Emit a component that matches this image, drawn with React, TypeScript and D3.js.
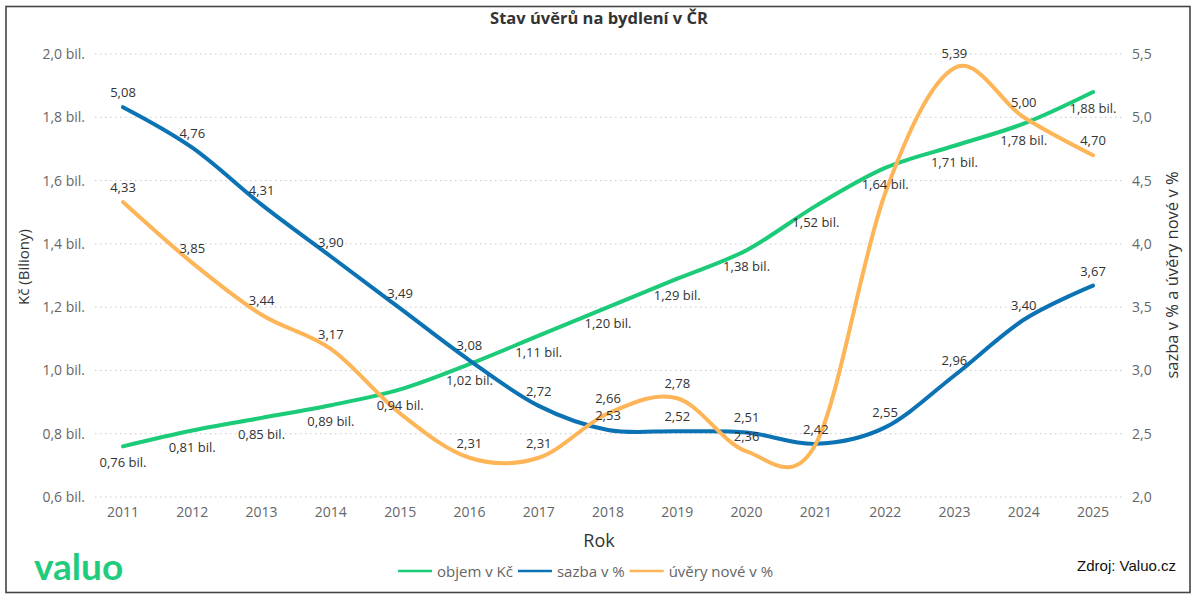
import * as d3 from "d3";
import { useEffect, useRef } from "react";

const years = [2011, 2012, 2013, 2014, 2015, 2016, 2017, 2018, 2019, 2020, 2021, 2022, 2023, 2024, 2025];
const objem = [0.76, 0.81, 0.85, 0.89, 0.94, 1.02, 1.11, 1.2, 1.29, 1.38, 1.52, 1.64, 1.71, 1.78, 1.88];
const sazba = [5.08, 4.76, 4.31, 3.9, 3.49, 3.08, 2.72, 2.53, 2.52, 2.51, 2.42, 2.55, 2.96, 3.4, 3.67];
const uveryNove = [4.33, 3.85, 3.44, 3.17, 2.66, 2.31, 2.31, 2.66, 2.78, 2.36, 2.42, 4.4, 5.39, 5.0, 4.7];
// labels Power BI hid because of overlap
const uveryHidden = [2015, 2021, 2022];

const leftTicks = [0.6, 0.8, 1.0, 1.2, 1.4, 1.6, 1.8, 2.0];
const rightTicks = [2.0, 2.5, 3.0, 3.5, 4.0, 4.5, 5.0, 5.5];

const GREEN = "#1bcb78";
const BLUE = "#0b72b3";
const ORANGE = "#fdb558";
const FONT = "'Segoe UI', 'Open Sans', 'Noto Sans', sans-serif";

const fmt = (v: number, digits: number) => v.toFixed(digits).replace(".", ",");

export default function App() {
  const ref = useRef<SVGSVGElement>(null);

  useEffect(() => {
    if (!ref.current) return;
    const svg = d3.select(ref.current);
    svg.selectAll("*").remove();

    const width = 1203;
    const height = 604;
    svg.attr("width", width).attr("height", height);

    svg.append("rect").attr("width", width).attr("height", height).attr("fill", "#fff");
    svg
      .append("rect")
      .attr("x", 6)
      .attr("y", 6.5)
      .attr("width", 1184)
      .attr("height", 586)
      .attr("fill", "none")
      .attr("stroke", "#444")
      .attr("stroke-width", 1.6);

    const x = d3.scalePoint<number>().domain(years).range([123, 1093]);
    const yL = d3.scaleLinear().domain([0.6, 2.0]).range([497, 54]);
    const yR = d3.scaleLinear().domain([2.0, 5.5]).range([497, 54]);

    // title
    svg
      .append("text")
      .attr("x", 599)
      .attr("y", 24)
      .attr("text-anchor", "middle")
      .style("font-family", FONT)
      .style("font-size", "16.5px")
      .style("font-weight", 700)
      .attr("fill", "#333")
      .text("Stav úvěrů na bydlení v ČR");

    // grid
    svg
      .append("g")
      .selectAll("line")
      .data(leftTicks)
      .join("line")
      .attr("x1", 95)
      .attr("x2", 1122)
      .attr("y1", (d) => yL(d))
      .attr("y2", (d) => yL(d))
      .attr("stroke", "#c8c8c8")
      .attr("stroke-width", 1)
      .attr("stroke-dasharray", "1.5,3.5");

    const axisText = (sel: d3.Selection<SVGTextElement, any, any, any>) =>
      sel.style("font-family", FONT).style("font-size", "14px").attr("fill", "#666");

    svg
      .append("g")
      .selectAll("text")
      .data(leftTicks)
      .join("text")
      .attr("x", 85)
      .attr("y", (d) => yL(d) + 5)
      .attr("text-anchor", "end")
      .text((d) => `${fmt(d, 1)} bil.`)
      .call(axisText);

    svg
      .append("g")
      .selectAll("text")
      .data(rightTicks)
      .join("text")
      .attr("x", 1132)
      .attr("y", (d) => yR(d) + 5)
      .text((d) => fmt(d, 1))
      .call(axisText);

    svg
      .append("g")
      .selectAll("text")
      .data(years)
      .join("text")
      .attr("x", (d) => x(d) ?? 0)
      .attr("y", 517)
      .attr("text-anchor", "middle")
      .text((d) => d)
      .call(axisText);

    // axis titles
    svg
      .append("text")
      .attr("x", 599)
      .attr("y", 547)
      .attr("text-anchor", "middle")
      .style("font-family", FONT)
      .style("font-size", "18px")
      .attr("fill", "#333")
      .text("Rok");

    svg
      .append("text")
      .attr("transform", "translate(29,267) rotate(-90)")
      .attr("text-anchor", "middle")
      .style("font-family", FONT)
      .style("font-size", "15px")
      .attr("fill", "#333")
      .text("Kč (Biliony)");

    svg
      .append("text")
      .attr("transform", "translate(1178,275) rotate(-90)")
      .attr("text-anchor", "middle")
      .style("font-family", FONT)
      .style("font-size", "16.5px")
      .attr("fill", "#333")
      .text("sazba v % a úvěry nové v %");

    const curve = d3.curveCardinal.tension(0);
    const series = [
      { values: objem, y: yL, color: GREEN, below: true, label: (v: number) => `${fmt(v, 2)} bil.`, hidden: [] as number[] },
      { values: uveryNove, y: yR, color: ORANGE, below: false, label: (v: number) => fmt(v, 2), hidden: uveryHidden },
      { values: sazba, y: yR, color: BLUE, below: false, label: (v: number) => fmt(v, 2), hidden: [] as number[] },
    ];

    const lineOrder = [series[0], series[2], series[1]];
    lineOrder.forEach((s) => {
      const line = d3
        .line<number>()
        .x((_, i) => x(years[i]) ?? 0)
        .y((d) => s.y(d))
        .curve(curve);
      svg
        .append("path")
        .datum(s.values)
        .attr("d", line)
        .attr("fill", "none")
        .attr("stroke", s.color)
        .attr("stroke-width", 4)
        .attr("stroke-linecap", "round");
    });

    series.forEach((s) => {
      svg
        .append("g")
        .selectAll("text")
        .data(s.values.map((v, i) => ({ v, year: years[i] })).filter((d) => !s.hidden.includes(d.year)))
        .join("text")
        .attr("x", (d) => x(d.year) ?? 0)
        .attr("y", (d) => s.y(d.v) + (s.below ? 21 : -10))
        .attr("text-anchor", "middle")
        .style("font-family", FONT)
        .style("font-size", "13px")
        .attr("fill", "#333")
        .text((d) => s.label(d.v));
    });

    // legend
    const legendItems = [
      { name: "objem v Kč", color: GREEN },
      { name: "sazba v %", color: BLUE },
      { name: "úvěry nové v %", color: ORANGE },
    ];
    const legend = svg.append("g").attr("transform", "translate(398,571)");
    let lx = 0;
    legendItems.forEach((it) => {
      legend
        .append("line")
        .attr("x1", lx)
        .attr("x2", lx + 34)
        .attr("y1", 0)
        .attr("y2", 0)
        .attr("stroke", it.color)
        .attr("stroke-width", 2.5);
      const t = legend
        .append("text")
        .attr("x", lx + 39)
        .attr("y", 5.5)
        .style("font-family", FONT)
        .style("font-size", "15px")
        .attr("fill", "#666")
        .text(it.name);
      const w = (t.node() as SVGTextElement).getComputedTextLength();
      lx += 39 + w + 5;
    });

    // logo and source
    svg
      .append("text")
      .attr("x", 34)
      .attr("y", 580)
      .style("font-family", "'Lato', 'Open Sans', sans-serif")
      .style("font-size", "37px")
      .style("font-weight", 700)
      .attr("fill", "#1fcc7d")
      .text("valuo");

    svg
      .append("text")
      .attr("x", 1176)
      .attr("y", 571)
      .attr("text-anchor", "end")
      .style("font-family", "'Liberation Sans Narrow', 'Arial Narrow', 'Liberation Sans', sans-serif")
      .style("font-size", "15px")
      .attr("fill", "#111")
      .text("Zdroj: Valuo.cz");
  }, []);

  return (
    <div style={{ position: "absolute", left: 0, top: 0 }}>
      <svg ref={ref} style={{ display: "block" }} />
    </div>
  );
}
